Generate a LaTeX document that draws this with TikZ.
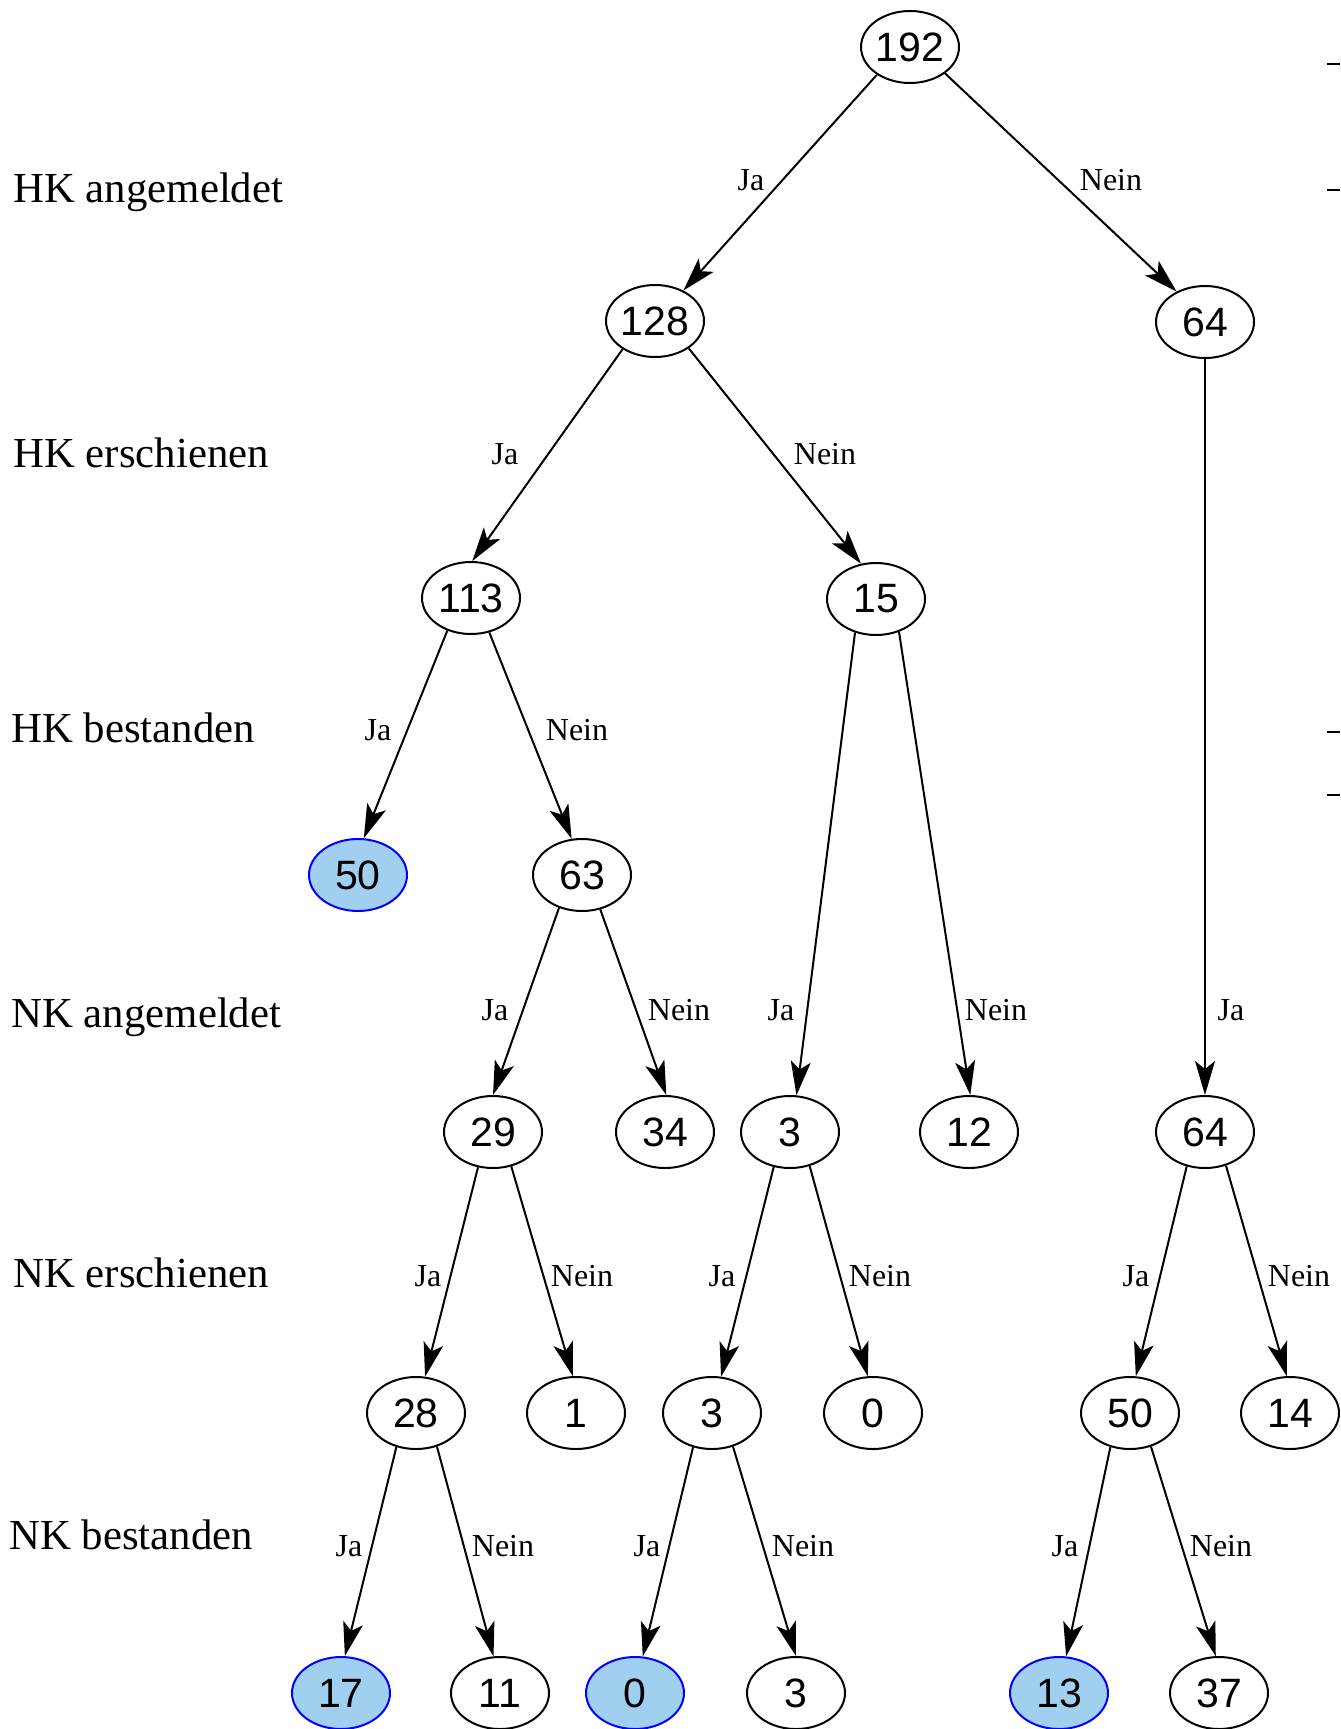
\documentclass[tikz,border=0pt]{standalone}
\usepackage{fontspec}
\setmainfont{Liberation Serif}
\newfontfamily\numfont{Liberation Sans}
\usetikzlibrary{arrows.meta,shapes.geometric}
\definecolor{hitfill}{RGB}{160,207,240}
\tikzset{
	knot/.style={ellipse, draw, line width=1pt, minimum width=49pt, minimum height=36pt, inner sep=0pt, font=\numfont\fontsize{20.5}{24}\selectfont},
	hit/.style={knot, draw=blue, fill=hitfill},
	edge/.style={-{Stealth[length=17pt,width=10pt,inset=4pt]}, line width=1pt},
	lbl/.style={inner sep=0pt, font=\fontsize{16}{19}\selectfont},
	row/.style={anchor=west, inner sep=0pt, font=\fontsize{21.4}{25}\selectfont},
}

\begin{document}
\begin{tikzpicture}[x=0.5pt, y=-0.5pt]
	\useasboundingbox (0,0) rectangle (1340,1729);
	% stages
	\node[row] (r1) at (13,192) {HK angemeldet};
	\node[row] (r2) at (13,453) {HK erschienen};
	\node[row] (r3) at (11,728) {HK bestanden};
	\node[row] (r4) at (11,1017) {NK angemeldet};
	\node[row] (r5) at (13,1273) {NK erschienen};
	\node[row] (r6) at (9,1535) {NK bestanden};
	%%%%%
	\node[knot] (n192) at (910,47) {192};
	\node[knot] (n128) at (655,321) {128};
	\node[knot] (n64a) at (1205,322) {64};
	\node[knot] (n113) at (471,598) {113};
	\node[knot] (n15) at (876,599) {15};
	\node[hit]  (n50a) at (358,875) {50};
	\node[knot] (n63) at (582,875) {63};
	\node[knot] (n29) at (493,1132) {29};
	\node[knot] (n34) at (665,1132) {34};
	\node[knot] (n3a) at (790,1132) {3};
	\node[knot] (n12) at (969,1132) {12};
	\node[knot] (n64b) at (1205,1132) {64};
	\node[knot] (n28) at (416,1413) {28};
	\node[knot] (n1) at (576,1413) {1};
	\node[knot] (n3b) at (712,1413) {3};
	\node[knot] (n0a) at (873,1413) {0};
	\node[knot] (n50b) at (1130,1413) {50};
	\node[knot] (n14) at (1290,1413) {14};
	\node[hit]  (n17) at (341,1693) {17};
	\node[knot] (n11) at (500,1693) {11};
	\node[hit]  (n0b) at (635,1693) {0};
	\node[knot] (n3c) at (796,1693) {3};
	\node[hit]  (n13) at (1059,1693) {13};
	\node[knot] (n37) at (1219,1693) {37};
	%%%%%
	\draw[edge] (n192.220) -- (n128.47) node[lbl] (e1) at (751,180) {Ja};
	\draw[edge] (n192.323) -- (n64a.133) node[lbl] (e2) at (1111,180) {Nein};
	\draw[edge] (n128.221) -- (n113.88) node[lbl] (e3) at (505,454) {Ja};
	\draw[edge] (n128.321) -- (n15.113) node[lbl] (e4) at (825,454) {Nein};
	\draw[edge] (n113.234) -- (n50a.81) node[lbl] (e5) at (378,730) {Ja};
	\draw[edge] (n113.298) -- (n63.106) node[lbl] (e6) at (577,730) {Nein};
	\draw[edge] (n63.235) -- (n29.90) node[lbl] (e7) at (495,1010) {Ja};
	\draw[edge] (n63.298) -- (n34.88) node[lbl] (e8) at (679,1010) {Nein};
	\draw[edge] (n15.238) -- (n3a.80) node[lbl] (e9) at (781,1010) {Ja};
	\draw[edge] (n15.305) -- (n12.88) node[lbl] (e10) at (996,1010) {Nein};
	\draw[edge] (n64a) -- (n64b) node[lbl] (e11) at (1231,1010) {Ja};
	\draw[edge] (n29.247) -- (n28.76) node[lbl] (e12) at (428,1276) {Ja};
	\draw[edge] (n29.298) -- (n1.95) node[lbl] (e13) at (582,1276) {Nein};
	\draw[edge] (n3a.245) -- (n3b.76) node[lbl] (e14) at (722,1276) {Ja};
	\draw[edge] (n3a.300) -- (n0a.98) node[lbl] (e15) at (880,1276) {Nein};
	\draw[edge] (n64b.242) -- (n50b.81) node[lbl] (e16) at (1136,1276) {Ja};
	\draw[edge] (n64b.302) -- (n14.95) node[lbl] (e17) at (1299,1276) {Nein};
	\draw[edge] (n28.240) -- (n17.84) node[lbl] (e18) at (349,1546) {Ja};
	\draw[edge] (n28.302) -- (n11.100) node[lbl] (e19) at (503,1546) {Nein};
	\draw[edge] (n3b.241) -- (n0b.78) node[lbl] (e20) at (647,1546) {Ja};
	\draw[edge] (n3b.302) -- (n3c.90) node[lbl] (e21) at (803,1546) {Nein};
	\draw[edge] (n50b.240) -- (n13.79) node[lbl] (e22) at (1065,1546) {Ja};
	\draw[edge] (n50b.302) -- (n37.95) node[lbl] (e23) at (1221,1546) {Nein};
	%%%%%
	\draw[line width=1pt] (1327,64) -- (1340,64);
	\draw[line width=1pt] (1327,190) -- (1340,190);
	\draw[line width=1pt] (1327,732) -- (1340,732);
	\draw[line width=1pt] (1327,795) -- (1340,795);
\end{tikzpicture}
\end{document}
